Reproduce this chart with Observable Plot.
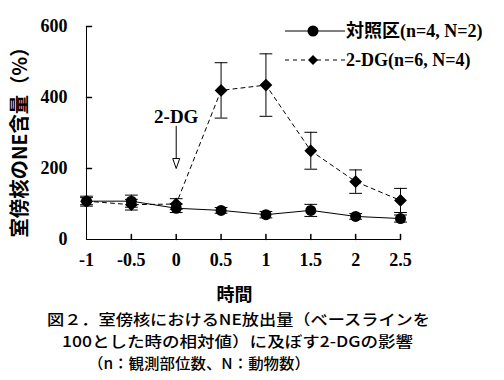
<!DOCTYPE html>
<html><head><meta charset="utf-8">
<script src="https://cdn.jsdelivr.net/npm/d3@7"></script>
<script src="https://cdn.jsdelivr.net/npm/@observablehq/plot@0.6"></script>
<style>
body{margin:0;background:#fff;}
#wrap{position:relative;width:504px;height:380px;overflow:hidden;background:#fff;}
#wrap svg{display:block;}
.abs{position:absolute;left:0;top:0;}
</style></head><body><div id="wrap"></div>
<script>
// ---- data ----
const times = [-1, -0.5, 0, 0.5, 1, 1.5, 2, 2.5];
const ctrl = [108, 108, 88, 82, 70, 82, 65, 59];
const ctrlErr = [14, 17, 12, 8, 9, 17, 8, 10];
const dg = [108, 98, 100, 420, 435, 250, 163, 110];
const dgErr = [10, 15, 15, 78, 88, 52, 33, 34];
const xTicks = [-1, -0.5, 0, 0.5, 1, 1.5, 2, 2.5];
const yTicks = [0, 200, 400, 600];
const ctrlName = "対照区(n=4, N=2)";
const dgName = "2-DG(n=6, N=4)";
const yLabel = "室傍核のNE含量（%）";
const xLabel = "時間";
const annotText = ["2-DG"];
const annotX = [0];
const annotTextY = [344];
const arrowTop = [320];
const arrowShaftEnd = [228];
const arrowHeadY = [214];
const captionLines = [
  "図２．室傍核におけるNE放出量（ベースラインを",
  "100とした時の相対値）に及ぼす2-DGの影響",
  "（n：観測部位数、N：動物数）"
];

const serif = '"Liberation Serif","Times New Roman","Noto Sans CJK JP",serif';
const gothic = '"Noto Sans CJK JP","Noto Sans",sans-serif';

const ctrlRows = times.map((t, i) => ({t, v: ctrl[i], e: ctrlErr[i]}));
const dgRows = times.map((t, i) => ({t, v: dg[i], e: dgErr[i]}));
const arrowRows = annotX.map((x, i) => ({x, y1: arrowTop[i], y2: arrowShaftEnd[i], h: arrowHeadY[i], ty: annotTextY[i], text: annotText[i]}));

const lineShape = {draw(ctx, l) { ctx.moveTo(0, 0); ctx.lineTo(0, -l); }};
const headSymbol = {draw(ctx) { ctx.moveTo(-3.5, -5); ctx.lineTo(3.5, -5); ctx.lineTo(0, 5); ctx.closePath(); }};

function errMarks(rows) {
  return [
    Plot.ruleX(rows, {x: "t", y1: d => d.v - d.e, y2: d => d.v + d.e, stroke: "black", strokeWidth: 1}),
    Plot.vector(rows, {x: "t", y: d => d.v + d.e, length: 12, rotate: 90, anchor: "middle", shape: lineShape, stroke: "black", strokeWidth: 1}),
    Plot.vector(rows, {x: "t", y: d => d.v - d.e, length: 12, rotate: 90, anchor: "middle", shape: lineShape, stroke: "black", strokeWidth: 1})
  ];
}

const plot = Plot.plot({
  width: 504, height: 310,
  marginLeft: 86, marginRight: 104, marginTop: 26, marginBottom: 71,
  x: {domain: [-1, 2.5]},
  y: {domain: [0, 600]},
  style: {background: "white", color: "black"},
  marks: [
    Plot.ruleY([0], {stroke: "black", strokeWidth: 1}),
    Plot.ruleX([-1], {stroke: "black", strokeWidth: 1}),
    Plot.vector(xTicks.slice(1), {x: d => d, y: 0, length: 5, rotate: 0, anchor: "start", shape: lineShape, stroke: "black"}),
    Plot.vector(yTicks.slice(1), {x: -1, y: d => d, length: 5, rotate: 90, anchor: "start", shape: lineShape, stroke: "black"}),
    Plot.axisX({ticks: xTicks, tickSize: 0, tickPadding: 14, tickFormat: d => String(d), fontSize: 18, fontWeight: "bold", fontFamily: serif, label: null}),
    Plot.axisY({ticks: yTicks, tickSize: 0, tickPadding: 19, tickFormat: d => String(d), fontSize: 18, fontWeight: "bold", fontFamily: serif, label: null}),
    Plot.text([xLabel], {frameAnchor: "bottom", lineAnchor: "middle", dx: -9, dy: 56, fontSize: 18, fontWeight: "bold", fontFamily: gothic, fill: "black"}),
    // 2-DG series (dashed)
    Plot.line(dgRows, {x: "t", y: "v", stroke: "black", strokeWidth: 1, strokeDasharray: "4,4"}),
    ...errMarks(dgRows),
    Plot.dot(dgRows, {x: "t", y: "v", symbol: "diamond2", r: 4.8, fill: "black", stroke: "black"}),
    // control series
    Plot.line(ctrlRows, {x: "t", y: "v", stroke: "black", strokeWidth: 1}),
    ...errMarks(ctrlRows),
    Plot.dot(ctrlRows, {x: "t", y: "v", r: 5.5, fill: "black", stroke: "none"}),
    // annotation arrow
    Plot.link(arrowRows, {x1: "x", x2: "x", y1: "y1", y2: "y2", stroke: "black", strokeWidth: 1}),
    Plot.dot(arrowRows, {x: "x", y: "h", symbol: headSymbol, fill: "white", stroke: "black", strokeWidth: 1}),
    Plot.text(arrowRows, {x: "x", y: "ty", text: "text", fontSize: 19, fontWeight: "bold", fontFamily: serif, fill: "black"})
  ]
});

const wrap = document.getElementById("wrap");
plot.classList.add("abs");
wrap.appendChild(plot);

// overlay: y label, legend, caption
const ov = d3.create("svg").attr("class", "abs").attr("width", 504).attr("height", 380).style("pointer-events", "none");
ov.append("text").attr("transform", "translate(20,137.5) rotate(-90)")
  .attr("text-anchor", "middle").attr("dy", "0.35em")
  .attr("textLength", 200).attr("lengthAdjust", "spacingAndGlyphs")
  .attr("font-family", gothic).attr("font-weight", "bold").attr("font-size", 20).text(yLabel);

const rows = [{name: ctrlName, y: 31, dash: null, sym: "circle"}, {name: dgName, y: 60, dash: "4,4", sym: "diamond"}];
rows.forEach(r => {
  ov.append("line").attr("x1", 285).attr("x2", 345).attr("y1", r.y).attr("y2", r.y)
    .attr("stroke", "black").attr("stroke-width", 1).attr("stroke-dasharray", r.dash);
  if (r.sym === "circle") ov.append("circle").attr("cx", 313).attr("cy", r.y).attr("r", 5.5).attr("fill", "black");
  else ov.append("path").attr("d", `M313,${r.y - 5}L318,${r.y}L313,${r.y + 5}L308,${r.y}Z`).attr("fill", "black");
  ov.append("text").attr("x", 346).attr("y", r.y).attr("dy", "0.35em")
    .attr("font-family", serif).attr("font-weight", "bold").attr("font-size", 18).text(r.name);
});

const capPos = [{x: 47, w: 383, y: 320}, {x: 62, w: 351, y: 342}, {x: 88, w: 222, y: 364}];
captionLines.forEach((s, i) => {
  ov.append("text").attr("x", capPos[i].x).attr("y", capPos[i].y).attr("dy", "0.35em")
    .attr("textLength", capPos[i].w).attr("lengthAdjust", "spacingAndGlyphs")
    .attr("font-family", gothic).attr("font-size", 15).attr("font-weight", 500).text(s);
});
wrap.appendChild(ov.node());
</script></body></html>
